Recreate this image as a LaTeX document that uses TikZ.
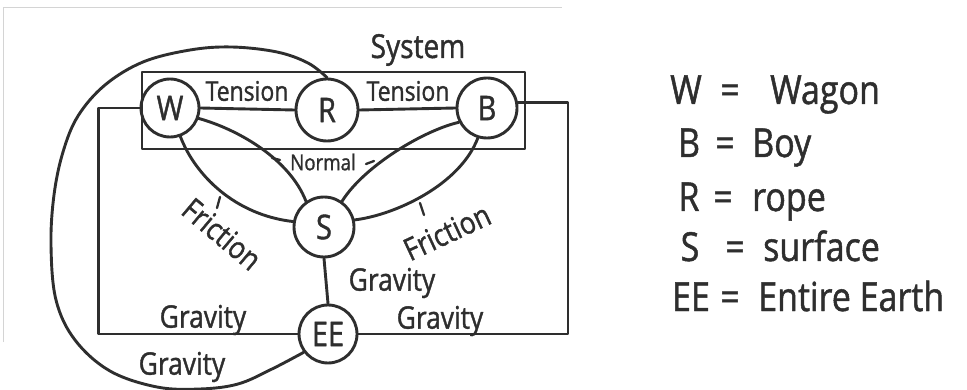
\documentclass[tikz,border=0pt]{standalone}
\usepackage{fontspec}
\setmainfont{Open Sans}[FakeStretch=0.85, FakeBold=1.2]
\definecolor{inkc}{HTML}{2E2E2E}
\definecolor{scan}{HTML}{D4D4D4}
\begin{document}
\begin{tikzpicture}[x=1pt,y=-1pt,
  ink/.style={draw=inkc, line width=2.9pt, line cap=round, line join=round},
  body/.style={circle, ink, inner sep=0pt, text=inkc, font=\fontsize{34}{34}\selectfont},
  lbl/.style={text=inkc, inner sep=0pt, font=\fontsize{31}{31}\selectfont},
  small/.style={lbl, font=\fontsize{22}{22}\selectfont},
  legend/.style={text=inkc, inner sep=0pt, anchor=base, font=\fontsize{40}{40}\selectfont},
  legendword/.style={legend, anchor=base west},
  tick/.style={ink, line width=2.3pt}
]
\useasboundingbox (0,0) rectangle (967,390);

% faint edge of the paper
\draw[scan, line width=0.8pt] (3,342) -- (3,7) -- (562,7);

% the system box
\node[ink, minimum width=383pt, minimum height=77pt, inner sep=0pt] (sys) at (333.5,110.5) {};
\node[lbl, font=\fontsize{33}{33}\selectfont] (syslbl) at (418,50) {System};

% bodies
\node[body, minimum size=58pt] (W) at (170,108) {W};
\node[body, minimum size=62pt] (R) at (327,110) {R};
\node[body, minimum size=60pt] (B) at (487,108) {B};
\node[body, minimum size=60pt] (S) at (324,227) {S};
\node[body, minimum size=58pt] (EE) at (328,334) {EE};

% tension through the rope
\draw[ink] (W.east) -- (R.west);
\draw[ink] (R.east) -- (B.west);
\node[lbl, font=\fontsize{27}{27}\selectfont] (t1) at (247,91) {Tension};
\node[lbl, font=\fontsize{27}{27}\selectfont] (t2) at (408,91) {Tension};

% normal forces from the surface
\draw[ink] (W.-20) .. controls (240,130) and (290,160) .. (S.125);
\draw[ink] (B.207) .. controls (425,130) and (365,165) .. (S.55);
\node[small] (nrm) at (323,162) {Normal};
\draw[tick] (272,158) -- (280,160);
\draw[tick] (366,164) -- (374,161);

% friction from the surface
\draw[ink] (W.-70) .. controls (195,175) and (235,215) .. (S.170);
\draw[ink] (B.-107) .. controls (460,185) and (395,215) .. (S.13);
\draw[tick] (220,197) -- (217,208);
\draw[tick] (420,203) -- (424,215);
\node[lbl, rotate=-40] (f1) at (222,234) {Friction};
\node[lbl, rotate=25] (f2) at (447,232) {Friction};

% gravity from the entire earth
\draw[ink] (S.south) -- (EE.north);
\node[lbl] (g1) at (392,283) {Gravity};
\draw[ink] (W.west) -- ([xshift=-41pt]W.west) |- (EE.west);
\node[lbl] (g2) at (203,320) {Gravity};
\draw[ink] (B.10) -- ([xshift=50pt]B.10) |- (EE.east);
\node[lbl] (g3) at (440,321) {Gravity};
\draw[ink] plot[smooth, tension=0.6] coordinates {(R.north) (308,63) (277,52) (232,47) (190,50) (143,62) (105,85) (78,116) (63,152) (54,195) (51,245) (56,300) (75,340) (110,371) (157,387) (200,389) (238,384) (272,369) (EE.217)};
\node[lbl] (g4) at (182,367) {Gravity};

% legend
\node[legend] (kW) at (686,104) {W};
\node[legend] (kWe) at (730,104) {=};
\node[legendword] (kWt) at (770,104) {Wagon};
\node[legend] (kB) at (689,157) {B};
\node[legend] (kBe) at (725,157) {=};
\node[legendword] (kBt) at (752,157) {Boy};
\node[legend] (kR) at (689,211) {R};
\node[legend] (kRe) at (723,211) {=};
\node[legendword] (kRt) at (752,211) {rope};
\node[legend] (kS) at (690,261) {S};
\node[legend] (kSe) at (735,261) {=};
\node[legendword] (kSt) at (763,261) {surface};
\node[legend] (kE) at (691,311) {EE};
\node[legend] (kEe) at (730,311) {=};
\node[legendword] (kEt) at (758,311) {Entire Earth};
\end{tikzpicture}
\end{document}
